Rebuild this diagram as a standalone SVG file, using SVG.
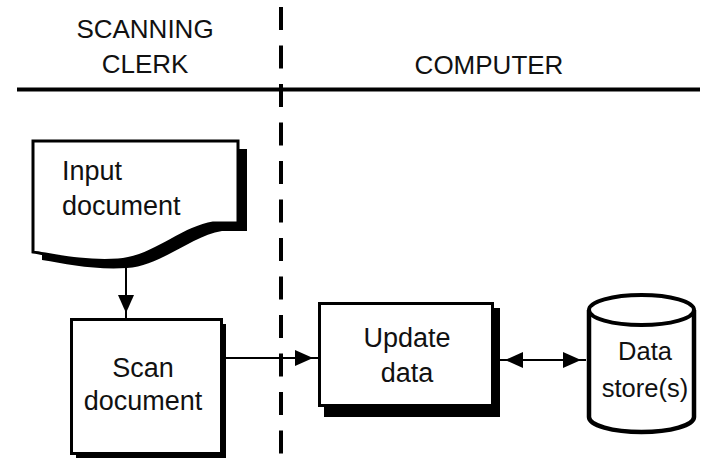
<svg xmlns="http://www.w3.org/2000/svg" width="702" height="459" viewBox="0 0 702 459">
<style>
  .lbl { font-family: "Liberation Sans", Arial, Helvetica, sans-serif; fill: #111; }
  .hdr { font-size: 26px; text-anchor: middle; }
  .nd { font-size: 27px; }
  .mid { text-anchor: middle; }
  .box { fill: #fff; stroke: #000; stroke-width: 3; }
  .shadow { fill: #000; stroke: none; }
  .conn { stroke: #000; stroke-width: 2; fill: none; }
</style>
<defs>
  <marker id="arr" markerUnits="userSpaceOnUse" markerWidth="30" markerHeight="20" viewBox="-25 -10 30 20" refX="0" refY="0" orient="auto-start-reverse">
    <path d="M-23,-8 L-5,0 L-23,8 Z" fill="#000"/>
  </marker>
</defs>
<rect width="702" height="459" fill="#fff"/>

<g id="lanes">
  <line x1="17" y1="89.5" x2="700" y2="89.5" stroke="#000" stroke-width="4"/>
  <line x1="281" y1="7" x2="281" y2="459" stroke="#000" stroke-width="4" stroke-dasharray="23 15.5"/>
  <text class="lbl hdr" x="145" y="38">SCANNING</text>
  <text class="lbl hdr" x="145" y="73">CLERK</text>
  <text class="lbl hdr" x="489" y="74">COMPUTER</text>
</g>

<g id="connectors">
  <line class="conn" x1="126" y1="262" x2="126" y2="318" marker-end="url(#arr)"/>
  <line class="conn" x1="226" y1="358" x2="318" y2="358" marker-end="url(#arr)"/>
  <line class="conn" x1="500" y1="360" x2="586" y2="360" marker-start="url(#arr)" marker-end="url(#arr)"/>
</g>

<g id="input-document">
  <path class="shadow" transform="translate(9,8)" d="M33,141 H238 V223 H213 C182,228 152,258 118,260 C84,262 58,256 33,252 Z"/>
  <path class="box" d="M33,141 H238 V223 H213 C182,228 152,258 118,260 C84,262 58,256 33,252 Z"/>
  <text class="lbl nd" x="62" y="180">Input</text>
  <text class="lbl nd" x="62" y="215">document</text>
</g>

<g id="scan-document">
  <rect class="shadow" x="76" y="324" width="150" height="134"/>
  <rect class="box" x="71.5" y="319.5" width="150" height="134"/>
  <text class="lbl nd mid" x="143" y="377">Scan</text>
  <text class="lbl nd mid" x="143" y="410">document</text>
</g>

<g id="update-data">
  <rect class="shadow" x="324" y="308" width="176" height="109"/>
  <rect class="box" x="319.5" y="303.5" width="173" height="102"/>
  <text class="lbl nd mid" x="407" y="347">Update</text>
  <text class="lbl nd mid" x="407" y="382">data</text>
</g>

<g id="data-store">
  <path d="M589,310 V417 A52.5,15 0 0 0 694,417 V310" fill="#fff" stroke="#000" stroke-width="4.5"/>
  <ellipse cx="641.5" cy="310" rx="52.5" ry="15" fill="#fff" stroke="#000" stroke-width="4"/>
  <text class="lbl mid" x="645" y="360" font-size="25.5">Data</text>
  <text class="lbl mid" x="645" y="397" font-size="25.5">store(s)</text>
</g>
</svg>
